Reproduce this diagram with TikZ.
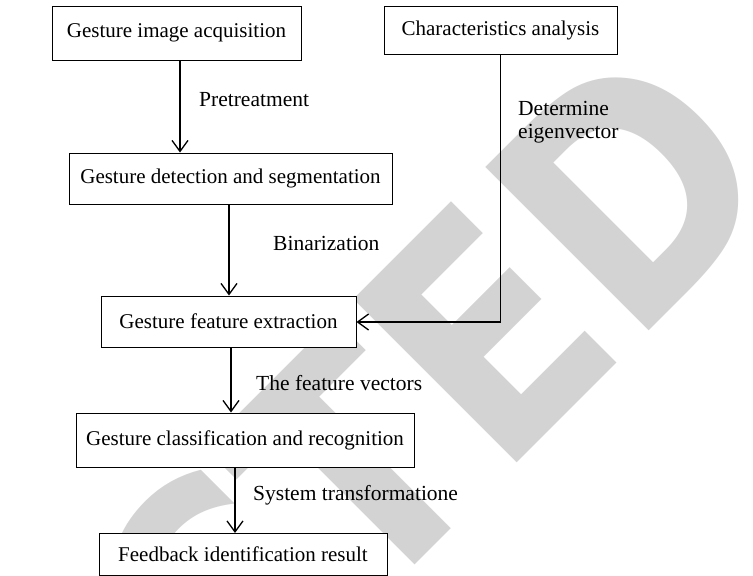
\documentclass[tikz,border=0pt]{standalone}
\usepackage{fontspec}
\setmainfont{Liberation Serif}
\newfontfamily\stampfont{DejaVu Sans Condensed}
\usetikzlibrary{arrows.meta}
\definecolor{stampgray}{RGB}{211,211,211}
\tikzset{
  stagebox/.style={draw=black, line width=1pt, fill=white, inner sep=0pt,
    font=\fontsize{21}{24}\selectfont},
  steplabel/.style={anchor=base west, inner sep=0pt, font=\fontsize{21.5}{24}\selectfont},
  flow/.style={line width=1.3pt, -{Straight Barb[length=11pt,width=16pt,line width=1.3pt]}},
}
\begin{document}
\begin{tikzpicture}[x=1pt,y=-1pt]
\useasboundingbox (0,0) rectangle (753,576);
% diagonal stamp behind the chart
\begin{scope}
  \clip (0,0) rectangle (753,576);
  \node[anchor=base east, rotate=45, text=stampgray, inner sep=0pt,
        font=\stampfont\bfseries\fontsize{317}{317}\selectfont] (stamp) at (791,189)
        {\scalebox{0.955}[1]{RETRACTED}};
\end{scope}
% stages
\node[stagebox, minimum width=249pt, minimum height=54pt] (acq) at (176.5,33) {Gesture image acquisition};
\node[stagebox, minimum width=233pt, minimum height=48pt] (char) at (500.5,30) {Characteristics analysis};
\node[stagebox, minimum width=323pt, minimum height=51pt] (det) at (230.5,178.5) {Gesture detection and segmentation};
\node[stagebox, minimum width=255pt, minimum height=51pt] (feat) at (228.5,321.5) {Gesture feature extraction};
\node[stagebox, minimum width=338pt, minimum height=54pt] (cls) at (245,440) {Gesture classification and recognition};
\node[stagebox, minimum width=288pt, minimum height=42pt] (res) at (243,554.5) {Feedback identification result};
% corner of the feedback path
\coordinate (turn) at (500.7,322);
% connectors
\draw[flow] ([xshift=3.5pt]acq.south) -- ([xshift=3.5pt]acq.south |- det.north);
\draw[flow] ([xshift=-1.5pt]det.south) -- ([xshift=-1.5pt]det.south |- feat.north);
\draw[flow] ([xshift=2.5pt]feat.south) -- ([xshift=2.5pt]feat.south |- cls.north);
\draw[flow] ([xshift=-10pt]cls.south) -- ([xshift=-10pt]cls.south |- res.north);
\draw[flow] (char.south -| turn) -- (turn) -- (turn -| feat.east);
% labels
\node[steplabel] (l1) at (199,106) {Pretreatment};
\node[steplabel] (l2) at (518,115) {Determine};
\node[steplabel] (l3) at (518,138) {eigenvector};
\node[steplabel] (l4) at (273,250) {Binarization};
\node[steplabel] (l5) at (256,390) {The feature vectors};
\node[steplabel] (l6) at (253,500) {System transformatione};
\end{tikzpicture}
\end{document}
